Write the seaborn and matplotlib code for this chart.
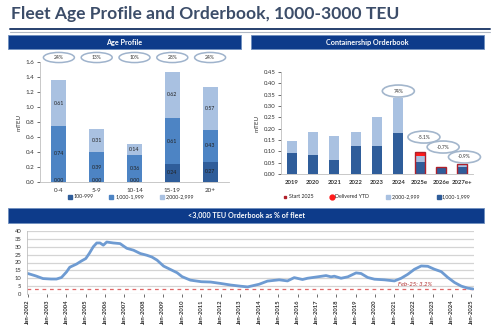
import numpy as np
import pandas as pd
import matplotlib
matplotlib.use("Agg")
import matplotlib.pyplot as plt
import seaborn as sns
from matplotlib.patches import Ellipse, Rectangle
from matplotlib.lines import Line2D

# ---------------- data ----------------
age_groups = ["0-4", "5-9", "10-14", "15-19", "20+"]
age_small = [0.004, 0.004, 0.004, 0.24, 0.27]     # 100-999
age_mid = [0.74, 0.39, 0.36, 0.61, 0.43]          # 1,000-1,999
age_large = [0.61, 0.31, 0.14, 0.62, 0.57]        # 2,000-2,999
age_share = ["24%", "13%", "10%", "28%", "24%"]
age_series = ["100-999", "1,000-1,999", "2,000-2,999"]

ob_years = ["2019", "2020", "2021", "2022", "2023", "2024", "2025e", "2026e", "2027e+"]
ob_1000 = [0.091, 0.084, 0.062, 0.122, 0.124, 0.182, 0.052, 0.028, 0.030]
ob_2000 = [0.055, 0.103, 0.106, 0.065, 0.126, 0.152, 0.027, 0.002, 0.012]
ob_start_years = ["2025e", "2026e", "2027e+"]
ob_start = [0.095, 0.031, 0.043]
ob_delivered_years = ["2025e"]
ob_delivered = [0.016]
ob_bubble_years = ["2024", "2025e", "2026e", "2027e+"]
ob_bubble_text = ["74%", "-5.1%", "-0.7%", "-0.9%"]
ob_series = ["Start 2025", "Delivered YTD", "2,000-2,999", "1,000-1,999"]

ts_year = [2002.0, 2002.4, 2002.78, 2003.2, 2003.48, 2003.74, 2004.0, 2004.17, 2004.52,
           2004.78, 2005.0, 2005.18, 2005.39, 2005.57, 2005.74, 2005.91, 2006.09, 2006.43,
           2006.78, 2007.13, 2007.48, 2007.83, 2008.17, 2008.43, 2008.7, 2009.04, 2009.39,
           2009.74, 2010.0, 2010.43, 2011.0, 2011.48, 2012.0, 2012.52, 2013.0, 2013.4,
           2014.0, 2014.43, 2015.04, 2015.47, 2015.82, 2016.25, 2016.51, 2017.03, 2017.47,
           2017.73, 2017.9, 2018.25, 2018.6, 2019.03, 2019.29, 2019.63, 2019.98, 2020.5,
           2021.02, 2021.37, 2021.71, 2022.06, 2022.41, 2022.75, 2023.1, 2023.45, 2023.79,
           2024.14, 2024.49, 2024.83, 2025.1]
ts_pct = [13.0, 11.5, 9.8, 9.5, 9.5, 10.5, 14.0, 17.0, 19.0,
          21.0, 22.5, 25.7, 30.0, 32.4, 32.4, 31.0, 33.0, 32.4,
          32.0, 29.0, 27.8, 25.7, 24.6, 23.5, 21.5, 17.7, 15.6,
          13.5, 11.0, 8.8, 7.8, 7.6, 6.7, 5.7, 5.0, 4.5,
          6.2, 8.2, 9.0, 8.3, 10.4, 9.2, 10.0, 10.9, 11.7,
          10.9, 11.3, 10.0, 10.9, 13.4, 13.0, 10.5, 9.4, 9.0,
          8.3, 10.0, 12.5, 15.7, 17.8, 17.6, 15.7, 14.2, 10.5,
          7.3, 5.0, 3.7, 3.2]
ts_ticks = list(range(2002, 2026))
ts_ticklabels = [f"Jan-{y}" for y in ts_ticks]
latest_label = "Feb-25: 3.2%"
latest_value = 3.2

# ---------------- style ----------------
sns.set_theme(style="white")
plt.rcParams["font.family"] = ["Lato", "DejaVu Sans"]
W, H = 500, 334
fig = plt.figure(figsize=(5, 3.34), dpi=100)
fig.patch.set_facecolor("white")

NAVY = "#0d3b8a"
C_DARK = "#2f5d9a"
C_MID = "#4d84c4"
C_LIGHT = "#a9c1e1"
TXT = "#333333"


def fx(px):
    return px / W


def fy(py):
    return 1 - py / H


def header(x0, y0, x1, y1, text):
    fig.add_artist(Rectangle((fx(x0), fy(y1)), fx(x1 - x0), (y1 - y0) / H,
                             transform=fig.transFigure, facecolor=NAVY,
                             edgecolor="#6f8fbf", lw=0.6))
    fig.text(fx((x0 + x1) / 2), fy((y0 + y1) / 2), text, color="white",
             fontsize=5.2, fontweight="bold", ha="center", va="center")


# title and rule lines
fig.text(fx(11), fy(14), "Fleet Age Profile and Orderbook, 1000-3000 TEU",
         fontsize=12.6, fontweight="bold", color="#3c4d69", ha="left", va="center")
fig.add_artist(Line2D([fx(10), fx(490)], [fy(29), fy(29)], color="#27406e", lw=1.4,
                      transform=fig.transFigure))
fig.add_artist(Line2D([fx(10), fx(490)], [fy(32), fy(32)], color="#b0b8c4", lw=0.8,
                      transform=fig.transFigure))

header(8, 35, 241, 49, "Age Profile")
header(251, 35, 484, 49, "Containership Orderbook")
header(8, 208, 484, 223, "<3,000 TEU Orderbook as % of fleet")

# ---------------- Age profile ----------------
ax1 = fig.add_axes([fx(40), fy(182), fx(189), 120 / H])
age_df = pd.DataFrame({"age": age_groups, "small": age_small, "mid": age_mid,
                       "large": age_large})
age_df["c1"] = age_df["small"]
age_df["c2"] = age_df["c1"] + age_df["mid"]
age_df["c3"] = age_df["c2"] + age_df["large"]
for col, color in [("c3", C_LIGHT), ("c2", C_MID), ("c1", C_DARK)]:
    sns.barplot(data=age_df, x="age", y=col, color=color, width=0.4,
                saturation=1, ax=ax1, edgecolor="none")
ax1.set_ylim(0, 1.6)
ax1.set_xlim(-0.5, 4.5)
ax1.set_yticks(np.arange(0, 1.61, 0.2))
ax1.set_yticklabels([f"{v:.1f}" for v in np.arange(0, 1.61, 0.2)])
ax1.set_xlabel("")
ax1.set_ylabel("mTEU", fontsize=4.5, color=TXT, labelpad=3)
ax1.tick_params(axis="both", labelsize=4.5, colors=TXT, length=2, width=0.5,
                pad=2)
ax1.tick_params(axis="y", left=True)
for s in ["top", "right"]:
    ax1.spines[s].set_visible(False)
for s in ["left", "bottom"]:
    ax1.spines[s].set_color("#bfbfbf")
    ax1.spines[s].set_linewidth(0.6)
for i in range(len(age_groups)):
    segs = [(0, age_small[i]), (age_small[i], age_mid[i]),
            (age_small[i] + age_mid[i], age_large[i])]
    for b, h in segs:
        yc = max(b + h / 2, 0.02)
        ax1.text(i, yc, f"{h:.2f}", ha="center", va="center", fontsize=3.8,
                 color="#222222")
    e = Ellipse((i, 1.66), 0.82, 0.135, facecolor="white", edgecolor="#9fb3cc",
                lw=1.1, clip_on=False, zorder=5)
    ax1.add_patch(e)
    ax1.text(i, 1.66, age_share[i], ha="center", va="center", fontsize=3.6,
             color=TXT, zorder=6, clip_on=False)
h1 = [Line2D([], [], marker="s", ls="", color=c, markersize=2.5)
      for c in [C_DARK, C_MID, C_LIGHT]]
ax1.legend(h1, age_series, loc="center", bbox_to_anchor=(0.48, -0.125), ncol=3,
           frameon=False, fontsize=3.8, handletextpad=0.3, columnspacing=3.0,
           handlelength=0.8)

# ---------------- Orderbook ----------------
ax2 = fig.add_axes([fx(281), fy(174), fx(192), 102 / H])
ob_df = pd.DataFrame({"year": ob_years, "d": ob_1000, "l": ob_2000})
ob_df["tot"] = ob_df["d"] + ob_df["l"]
deliv_df = pd.DataFrame({"year": ob_delivered_years, "v": ob_delivered})
deliv_df["top"] = [ob_df.set_index("year").loc[y, "tot"] + v
                   for y, v in zip(ob_delivered_years, ob_delivered)]
sns.barplot(data=deliv_df, x="year", y="top", order=ob_years, color="#ff1a1a",
            width=0.47, saturation=1, ax=ax2, edgecolor="none")
sns.barplot(data=ob_df, x="year", y="tot", order=ob_years, color=C_LIGHT,
            width=0.47, saturation=1, ax=ax2, edgecolor="none")
sns.barplot(data=ob_df, x="year", y="d", order=ob_years, color=C_DARK,
            width=0.47, saturation=1, ax=ax2, edgecolor="none")
start_df = pd.DataFrame({"year": ob_start_years, "v": ob_start})
sns.barplot(data=start_df, x="year", y="v", order=ob_years, fill=False,
            color="#b0202a", width=0.47, saturation=1, ax=ax2, linewidth=1.0)
ax2.set_ylim(0, 0.45)
ax2.set_xlim(-0.5, 8.5)
yt = np.arange(0, 0.451, 0.05)
ax2.set_yticks(yt)
ax2.set_yticklabels([f"{v:.2f}" for v in yt])
ax2.set_xlabel("")
ax2.set_ylabel("mTEU", fontsize=4.5, color=TXT, labelpad=3)
ax2.tick_params(axis="both", labelsize=4.3, colors=TXT, length=2, width=0.5, pad=2)
ax2.tick_params(axis="y", left=True)
for lab in ax2.get_xticklabels():
    lab.set_fontweight("bold")
for s in ["top", "right"]:
    ax2.spines[s].set_visible(False)
for s in ["left", "bottom"]:
    ax2.spines[s].set_color("#bfbfbf")
    ax2.spines[s].set_linewidth(0.6)
bubble_y = [0.366, 0.163, 0.119, 0.075]
bubble_dx = [0.0, 0.2, 0.1, 0.1]
for yr, txt, by, dx in zip(ob_bubble_years, ob_bubble_text, bubble_y, bubble_dx):
    xi = ob_years.index(yr) + dx
    ax2.add_patch(Ellipse((xi, by), 1.5, 0.053, facecolor="white",
                          edgecolor="#a3b6cc", lw=1.2, clip_on=False, zorder=5))
    ax2.text(xi, by, txt, ha="center", va="center", fontsize=3.6, color=TXT,
             zorder=6)
h2 = [Line2D([], [], marker="s", ls="", color="#b0202a", markersize=1.8),
      Line2D([], [], marker="o", ls="", color="#ff1a1a", markersize=3.5),
      Line2D([], [], marker="s", ls="", color=C_LIGHT, markersize=2.2),
      Line2D([], [], marker="s", ls="", color=C_DARK, markersize=2.2)]
ax2.legend(h2, ob_series, loc="center", bbox_to_anchor=(0.5, -0.225), ncol=4,
           frameon=False, fontsize=3.8, handletextpad=0.2, columnspacing=3.2,
           handlelength=0.8)

# ---------------- Orderbook % of fleet ----------------
ax3 = fig.add_axes([fx(27), fy(294), fx(447), 63 / H])
ts_df = pd.DataFrame({"year": ts_year, "pct": ts_pct})
sns.lineplot(data=ts_df, x="year", y="pct", color="#6e9bd2", lw=2.0, ax=ax3)
ax3.axhline(latest_value, color="#e06666", lw=0.9, ls=(0, (3, 3)), zorder=1)
ax3.text(2022.1, latest_value + 1.0, latest_label, color="#b03030", fontsize=4.3,
         fontstyle="italic", ha="center", va="bottom")
ax3.set_xlim(2001.95, 2025.15)
ax3.set_ylim(0, 40)
ax3.set_yticks(range(0, 41, 5))
ax3.set_xticks(ts_ticks)
ax3.set_xticklabels(ts_ticklabels, rotation=90, fontweight="bold")
ax3.yaxis.grid(True, color="#d4d4d4", lw=0.9)
ax3.set_axisbelow(True)
ax3.set_xlabel("")
ax3.set_ylabel("")
ax3.tick_params(axis="both", labelsize=4.2, colors=TXT, length=2, width=0.5, pad=2)
ax3.tick_params(axis="x", bottom=True)
for s in ["top", "right", "bottom"]:
    ax3.spines[s].set_visible(False)
ax3.spines["left"].set_color("#bfbfbf")
ax3.spines["left"].set_linewidth(0.6)

fig.savefig("out.png", dpi=100, facecolor="white")
